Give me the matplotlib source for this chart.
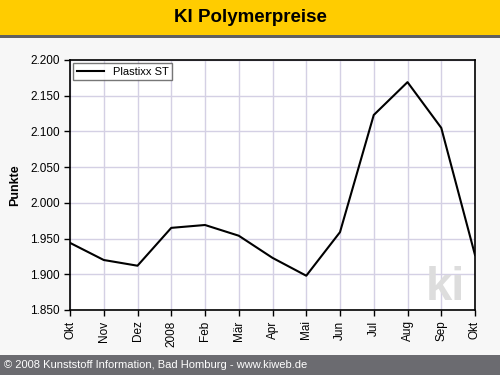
import matplotlib
matplotlib.use("Agg")
import matplotlib.pyplot as plt
from matplotlib.patches import Rectangle

plt.rcParams['font.family'] = ['Liberation Sans', 'DejaVu Sans']

# Daten
monate = ["Okt", "Nov", "Dez", "2008", "Feb", "Mär", "Apr", "Mai", "Jun", "Jul", "Aug", "Sep", "Okt"]
plastixx_st = [1.944, 1.920, 1.912, 1.965, 1.969, 1.954, 1.923, 1.898, 1.959, 2.123, 2.169, 2.105, 1.927]
y_ticks = [1.850, 1.900, 1.950, 2.000, 2.050, 2.100, 2.150, 2.200]

fig = plt.figure(figsize=(5, 3.75), dpi=100, facecolor="#f7f7f7")

# Kopfzeile
fig.patches.append(Rectangle((0, 1 - 35 / 375), 1, 35 / 375, transform=fig.transFigure,
                             facecolor="#ffcc00", edgecolor="none", zorder=0))
fig.patches.append(Rectangle((0, 1 - 38 / 375), 1, 3 / 375, transform=fig.transFigure,
                             facecolor="#606060", edgecolor="none", zorder=0))
fig.text(0.5, 1 - 18 / 375, "KI Polymerpreise", ha="center", va="center",
         fontsize=13.5, fontweight="bold", color="black")

# Fußzeile
fig.patches.append(Rectangle((0, 0), 1, 20 / 375, transform=fig.transFigure,
                             facecolor="#6b6b70", edgecolor="none", zorder=0))
fig.text(4 / 500, 10 / 375, "© 2008 Kunststoff Information, Bad Homburg - www.kiweb.de",
         ha="left", va="center", fontsize=8, color="white")

ax = fig.add_axes([70 / 500, 1 - 310 / 375, 405 / 500, 250 / 375])
ax.set_facecolor("white")
x = list(range(len(monate)))
ax.plot(x, plastixx_st, color="black", linewidth=1.5, label="Plastixx ST", zorder=3)

ax.set_xlim(0, len(monate) - 1)
ax.set_ylim(1.850, 2.200)
ax.set_xticks(x)
ax.set_xticklabels(monate, rotation=90, fontsize=8.5)
ax.set_yticks(y_ticks)
ax.set_yticklabels([f"{v:.3f}" for v in y_ticks], fontsize=8.5)
ax.tick_params(length=4, width=1, color="black")
ax.grid(True, color="#d4d0e4", linewidth=1)
ax.set_axisbelow(True)
for s in ax.spines.values():
    s.set_linewidth(1.2)
ax.set_ylabel("Punkte", fontsize=9, fontweight="bold", labelpad=6)

# Wasserzeichen
ax.text(0.975, 0.04, "ki", transform=ax.transAxes, ha="right", va="baseline",
        fontsize=34, fontweight="bold", color="#dddddd", zorder=1)

leg = ax.legend(loc="upper left", fontsize=8, frameon=True, fancybox=False,
                edgecolor="#555555", borderpad=0.3, handlelength=2.5, borderaxespad=0.3)
leg.get_frame().set_linewidth(1)

fig.savefig("out.png", dpi=100, facecolor=fig.get_facecolor())
